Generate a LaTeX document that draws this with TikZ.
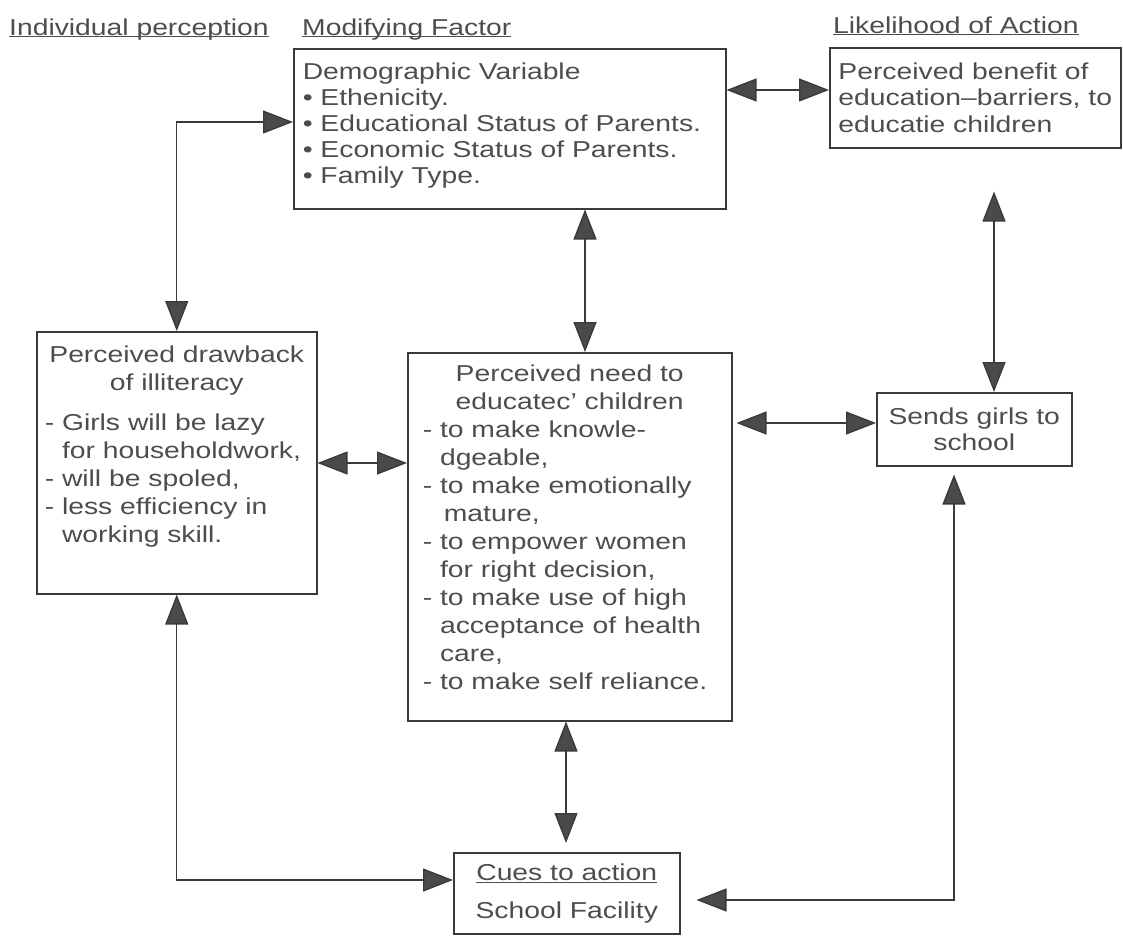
\documentclass[tikz,border=0pt]{standalone}
\usepackage{fontspec}
\setmainfont[FakeStretch=1.23]{Liberation Sans}
\usetikzlibrary{arrows.meta}
\definecolor{scanink}{HTML}{3A3A3A}
\definecolor{scantext}{HTML}{4D4D4D}
\definecolor{scantip}{HTML}{4A4A4A}
\newcommand{\headtext}[1]{\underline{\smash{#1}}}

\begin{document}
\begin{tikzpicture}[x=1pt, y=-1pt, font=\fontsize{23}{28}\selectfont, text=scantext,
    factor/.style={draw=scanink, line width=1.5pt, anchor=north west},
    link/.style={draw=scanink, line width=1.4pt,
      {Triangle[length=30pt, width=23pt, fill=scantip]}-{Triangle[length=30pt, width=23pt, fill=scantip]}},
    head/.style={anchor=base west, inner sep=0pt},
  ]
  \useasboundingbox (0,0) rectangle (1123,937);

  % column headings
  \node[head] (hdindiv) at (9,35) {\headtext{Individual perception}};
  \node[head] (hdmodify) at (302,35) {\headtext{Modifying Factor}};
  \node[head] (hdlikely) at (833,33) {\headtext{Likelihood of Action}};

  % boxes, placed by their top left corner
  \node[factor, inner xsep=9pt, inner ysep=14pt] (demo) at (293,48)
    {\parbox[c][132pt][t]{414pt}{\raggedright\baselineskip=26pt
      Demographic Variable\\
      • Ethenicity.\\
      • Educational Status of Parents.\\
      • Economic Status of Parents.\\
      • Family Type.}};
  \node[factor, minimum width=291pt, minimum height=100pt, align=left,
    font=\fontsize{23}{26.5}\selectfont] (benefit) at (829,47)
    {Perceived benefit of\\education--barriers, to\\educatie children};
  \node[factor, inner xsep=8pt, inner ysep=14pt] (drawback) at (36,331)
    {\parbox[c][234pt][t]{264pt}{\centering Perceived drawback\\of illiteracy\par
      \vspace{12pt}\raggedright
      - Girls will be lazy\\
      \phantom{- }for householdwork,\\
      - will be spoled,\\
      - less efficiency in\\
      \phantom{- }working skill.}};
  \node[factor, inner xsep=15pt, inner ysep=12pt] (need) at (407,352)
    {\parbox[c][344pt][t]{294pt}{\centering Perceived need to\\educatec' children\par
      \raggedright
      - to make knowle-\\
      \phantom{- }dgeable,\\
      - to make emotionally\\
      \phantom{- }\,mature,\\
      - to empower women\\
      \phantom{- }for right decision,\\
      - to make use of high\\
      \phantom{- }acceptance of health\\
      \phantom{- }care,\\
      - to make self reliance.}};
  \node[factor, minimum width=195pt, minimum height=73pt, align=center,
    font=\fontsize{23}{26}\selectfont] (sends) at (876,392)
    {Sends girls to\\school};
  \node[factor, minimum width=226pt, minimum height=81pt, align=center] (cues) at (453,852)
    {\underline{Cues to action}\\[10pt]School Facility};

  % two-way links
  \draw[link] (demo.east |- 0,90) -- (benefit.west |- 0,90);
  \draw[link] (drawback.north) |- (demo.west |- 0,122);
  \draw[link] (demo.south -| 585,0) -- (need.north -| 585,0);
  \draw[link, shorten <=43pt] (benefit.south -| 994,0) -- (sends.north -| 994,0);
  \draw[link] (drawback.east |- 0,463) -- (need.west |- 0,463);
  \draw[link, shorten <=4pt] (need.east |- 0,423) -- (sends.west |- 0,423);
  \draw[link, shorten >=9pt] (need.south -| 566,0) -- (cues.north -| 566,0);
  \draw[link] (drawback.south) |- (cues.west |- 0,880);
  \draw[link, shorten <=8pt, shorten >=16pt] (sends.south -| 954,0) |- (cues.east |- 0,900);
\end{tikzpicture}
\end{document}
